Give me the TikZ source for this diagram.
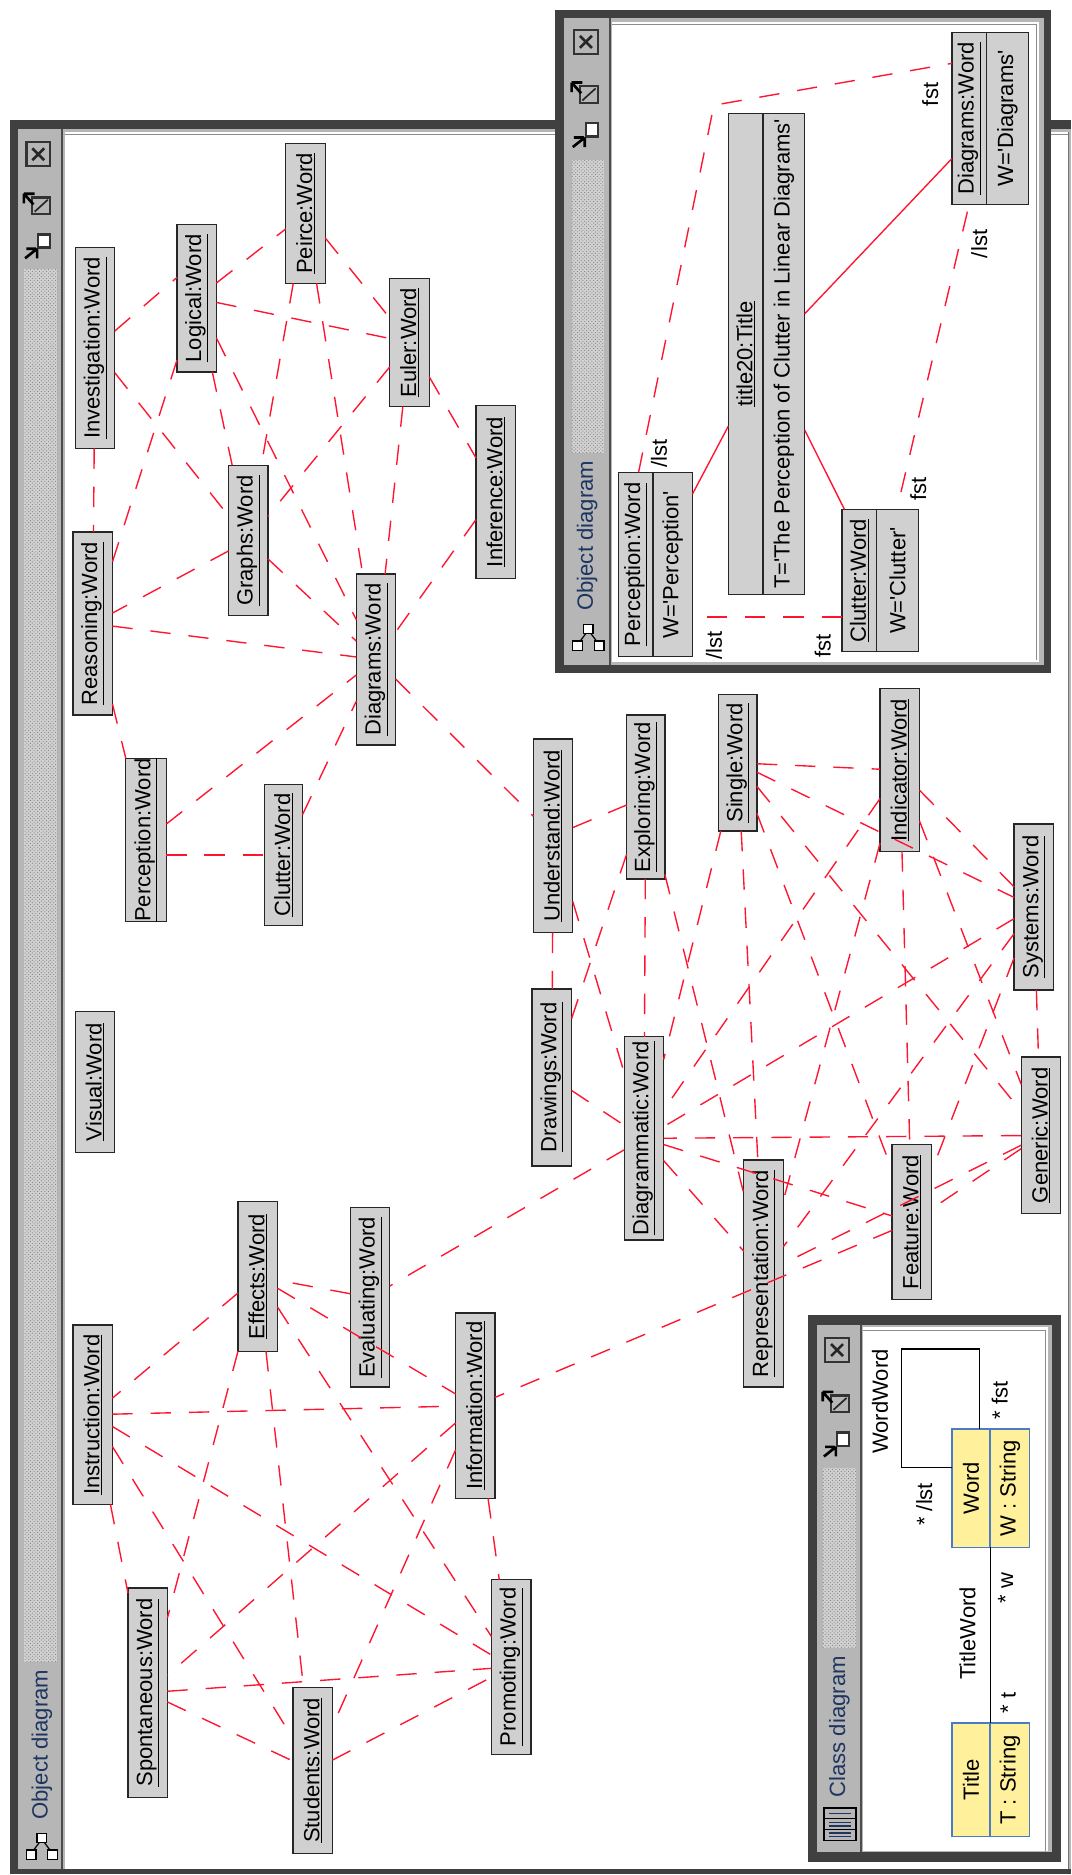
\documentclass[tikz,border=0pt]{standalone}
\usepackage{fontspec}
\setmainfont{Liberation Sans}
\usetikzlibrary{patterns}
\definecolor{wingray}{HTML}{B5B6B5}
\definecolor{windark}{HTML}{404040}
\definecolor{boxgray}{HTML}{D0D0D0}
\definecolor{linkred}{HTML}{FF1530}
\definecolor{titleblue}{HTML}{1E3560}
\definecolor{classyellow}{HTML}{FFF09C}
\definecolor{classblue}{HTML}{4A7CC4}
\newcommand{\q}{\textquotesingle}
\newcommand{\rt}[1]{\rotatebox{90}{#1}}
\tikzset{
  wordbox/.style={draw=black!85,fill=boxgray,line width=1.1pt,inner sep=0pt,outer sep=0pt,font=\fontsize{18.4}{18.4}\selectfont},
  plaintext/.style={inner sep=0pt,font=\fontsize{18.4}{18.4}\selectfont},
  titletext/.style={inner sep=0pt,text=titleblue,font=\fontsize{18.5}{18.5}\selectfont},
  classbox/.style={draw=classblue,fill=classyellow,line width=1.1pt,inner sep=0pt,outer sep=0pt,font=\fontsize{18.4}{18.4}\selectfont},
  lstlink/.style={draw=linkred,line width=1.15pt,dash pattern=on 17pt off 15pt},
  sollink/.style={draw=linkred,line width=1.15pt},
  classlink/.style={draw=black,line width=1.2pt},
  btn/.style={draw=black!80,line width=2pt},
}
\newcommand{\wb}[6]{\node[wordbox,minimum width={(#3-#2)*1pt},minimum height={(#5-#4)*1pt}] (#1) at ({(#2+#3)/2},{(#4+#5)/2}) {\rt{\underline{#6}}};}
\newcommand{\ob}[8]{%
 \node[wordbox,minimum width={(#4-#2)*1pt},minimum height={(#6-#5)*1pt}] (#1) at ({(#2+#4)/2},{(#5+#6)/2}) {};
 \node[plaintext] (#1h) at ({(#2+#3)/2},{(#5+#6)/2}) {\rt{\underline{#7}}};
 \node[plaintext] (#1a) at ({(#3+#4)/2},{(#5+#6)/2}) {\rt{#8}};
 \draw[black!85,line width=1.1pt] (#3,#5) -- (#3,#6);}
\newcommand{\cb}[8]{%
 \node[classbox,minimum width={(#4-#2)*1pt},minimum height={(#6-#5)*1pt}] (#1) at ({(#2+#4)/2},{(#5+#6)/2}) {};
 \node[plaintext] (#1h) at ({(#2+#3)/2},{(#5+#6)/2}) {\rt{#7}};
 \node[plaintext] (#1a) at ({(#3+#4)/2},{(#5+#6)/2}) {\rt{#8}};
 \draw[classblue,line width=1.1pt] (#3,#5) -- (#3,#6);}
\newcommand{\controls}[4]{%
 \draw[btn,fill=wingray] (#1-10,#2-10) rectangle (#1+10,#2+10);
 \draw[black!85,line width=2.2pt] (#1-5,#2-5) -- (#1+5,#2+5) (#1+5,#2-5) -- (#1-5,#2+5);
 \draw[btn,fill=wingray] (#1-5,#3-7) rectangle (#1+10,#3+7);
 \draw[black!85,line width=1.4pt] (#1-3,#3+5) -- (#1+8,#3-5);
 \draw[black,line width=2.2pt] (#1-4,#3-1) -- (#1-12,#3-10) (#1-12,#3-10) -- (#1-3,#3-10) (#1-12,#3-10) -- (#1-12,#3-2);
 \draw[btn,fill=white] (#1,#4-7) rectangle (#1+10,#4+4);
 \draw[black,line width=2.2pt] (#1-1,#4+5) -- (#1-11,#4+13) (#1-2,#4+5) -- (#1-10,#4+5) (#1-1,#4+5) -- (#1-1,#4+13);}
\newcommand{\stipple}[4]{%
 \fill[gray!35] (#1,#3) rectangle (#2,#4);
 \fill[pattern=crosshatch dots,pattern color=black!50] (#1,#3) rectangle (#2,#4);}
\newcommand{\objicon}[2]{%
 \draw[black,line width=1pt] (#1,#2-6) -- (#1+9,#2+6) (#1,#2-6) -- (#1-9,#2+6);
 \draw[black,line width=1.1pt,fill=white] (#1-4,#2-11) rectangle (#1+4,#2-3);
 \draw[black,line width=1.1pt,fill=white] (#1+5,#2+3) rectangle (#1+13,#2+11);
 \draw[black,line width=1.1pt,fill=white] (#1-13,#2+3) rectangle (#1-5,#2+11);}
\begin{document}
\begin{tikzpicture}[x=1pt,y=-1pt]
\useasboundingbox (0,0) rectangle (896,1568);
\fill[white] (0,0) rectangle (896,1568);
%%% main window
\fill[windark] (8,100) rectangle (896,1567);
\fill[wingray] (15,108) rectangle (896,1563);
\fill[black!70] (51,108) rectangle (53,1563);
\fill[white] (54,110) rectangle (893,1563);
\draw[black!45,line width=0.7pt] (54,112.5) -- (893,112.5);
\draw[black!55,line width=1pt] (893.5,110) -- (893.5,1563);
\stipple{20}{48}{225}{1390}
\controls{32}{129}{172}{203}
\node[titletext] (maintitle) at (35,1459) {\rt{Object diagram}};
\objicon{35}{1544}
%%% word nodes
\wb{inv}{63}{96}{207}{375}{Investigation:Word}
\wb{logi}{148}{181}{188}{311}{Logical:Word}
\wb{pei}{239}{272}{120}{237}{Peirce:Word}
\wb{eul}{326}{359}{233}{340}{Euler:Word}
\wb{inf}{398}{431}{339}{484}{Inference:Word}
\wb{gra}{191}{224}{389}{515}{Graphs:Word}
\wb{dia}{298}{331}{480}{623}{Diagrams:Word}
\wb{rea}{61}{94}{445}{598}{Reasoning:Word}
\wb{per}{105}{139}{635}{770}{Perception:Word}
\wb{clu}{221}{253}{656}{774}{Clutter:Word}
\wb{vis}{63}{96}{846}{964}{Visual:Word}
\wb{und}{446}{479}{618}{780}{Understand:Word}
\wb{exp}{524}{556}{598}{735}{Exploring:Word}
\wb{sin}{601}{633}{581}{695}{Single:Word}
\wb{ind}{736}{769}{576}{712}{Indicator:Word}
\wb{sys}{848}{881}{689}{828}{Systems:Word}
\wb{gen}{854}{887}{884}{1015}{Generic:Word}
\wb{dra}{445}{478}{827}{975}{Drawings:Word}
\wb{dgm}{522}{555}{867}{1037}{Diagrammatic:Word}
\wb{rep}{622}{655}{970}{1160}{Representation:Word}
\wb{fea}{746}{779}{957}{1087}{Feature:Word}
\wb{eff}{199}{232}{1005}{1130}{Effects:Word}
\wb{eva}{293}{326}{1010}{1160}{Evaluating:Word}
\wb{ifo}{381}{414}{1098}{1253}{Information:Word}
\wb{ins}{61}{94}{1108}{1258}{Instruction:Word}
\wb{spo}{107}{140}{1328}{1503}{Spontaneous:Word}
\wb{stu}{245}{278}{1411}{1550}{Students:Word}
\wb{pro}{411}{444}{1321}{1467}{Promoting:Word}
%%% links
\foreach \a/\b in {
 logi/pei,logi/eul,pei/eul,pei/gra,pei/dia,eul/gra,eul/dia,eul/inf,inf/dia,
 logi/gra,logi/dia,inv/gra,inv/rea,logi/rea,gra/rea,gra/dia,rea/dia,rea/per,per/dia,
 clu/dia,dia/und,und/exp,und/dra,und/dgm,exp/dra,exp/dgm,exp/rep,sin/dgm,
 sin/rep,sin/fea,sin/ind,sin/sys,sin/gen,ind/dgm,ind/rep,ind/fea,ind/sys,ind/gen,
 sys/dgm,sys/rep,sys/fea,sys/gen,gen/dgm,gen/rep,gen/fea,dra/dgm,dgm/rep,dgm/fea,
 dgm/eva,fea/ifo,eva/eff,eff/ifo,eff/ins,eff/spo,eff/stu,eff/pro,ins/ifo,ins/pro,
 ins/stu,ins/spo,ifo/spo,ifo/stu,ifo/pro,spo/pro,spo/stu,stu/pro}
 {\draw[lstlink] (\a) -- (\b);}
\coordinate (invend) at (148,232);
\draw[lstlink] (inv) -- (invend);
\draw[lstlink] (per.east |- clu.west) -- (clu.west);
%%% top object diagram window
\fill[windark] (464,8) rectangle (879,563);
\fill[wingray] (472,15) rectangle (873,556);
\fill[black!70] (509,15) rectangle (511,556);
\fill[white] (512,18) rectangle (869,554);
\draw[black!45,line width=0.7pt] (512,20.5) -- (867,20.5) -- (867,552);
\stipple{478}{505}{134}{379}
\controls{490}{35}{79}{110}
\node[titletext] (toptitle) at (491,448) {\rt{Object diagram}};
\objicon{492}{533}
\ob{tper}{517}{546}{579}{395}{549}{Perception:Word}{W=\q Perception\q}
\ob{ttit}{609}{638}{673}{95}{497}{title20:Title}{T=\q The Perception of Clutter in Linear Diagrams\q}
\ob{tclu}{704}{733}{768}{426}{545}{Clutter:Word}{W=\q Clutter\q}
\ob{tdia}{796}{825}{860}{27}{171}{Diagrams:Word}{W=\q Diagrams\q}
\draw[sollink] (tper) -- (ttit);
\draw[sollink] (tclu) -- (ttit);
\draw[sollink] (tdia) -- (ttit);
\coordinate (pa) at (534,395);
\coordinate (pb) at (597,88);
\coordinate (pc) at (796,53);
\coordinate (pd) at (582,516);
\coordinate (pe) at (704,516);
\coordinate (pf) at (809,177);
\coordinate (pg) at (750,426);
\draw[lstlink] (pa) -- (pb) -- (pc);
\draw[lstlink] (pe) -- (pd);
\draw[lstlink] (pf) -- (pg);
\node[plaintext] (l1) at (551,379) {\rt{/lst}};
\node[plaintext] (l2) at (597,540) {\rt{/lst}};
\node[plaintext] (l3) at (688,540) {\rt{fst}};
\node[plaintext] (l4) at (768,409) {\rt{fst}};
\node[plaintext] (l5) at (778,79) {\rt{fst}};
\node[plaintext] (l6) at (819,204) {\rt{/lst}};
%%% class window
\fill[windark] (676,1100) rectangle (887,1557);
\fill[wingray] (683,1108) rectangle (880,1549);
\fill[black!70] (719,1108) rectangle (721,1549);
\fill[white] (722,1110) rectangle (876,1548);
\draw[black!45,line width=0.7pt] (722,1112.5) -- (874,1112.5) -- (874,1548);
\stipple{688}{716}{1228}{1378}
\controls{700}{1129}{1174}{1205}
\node[titletext] (classtitle) at (702,1444) {\rt{Class diagram}};
\draw[black,line width=1.2pt,fill=wingray] (689,1512) rectangle (716,1539);
\draw[black,line width=1pt] (689,1521) -- (716,1521) (689,1530) -- (716,1530);
\draw[titleblue,line width=1.2pt] (693,1516.5) -- (712,1516.5) (693,1524) -- (712,1524) (693,1527) -- (712,1527) (693,1533) -- (712,1533) (693,1536) -- (712,1536);
\cb{cw}{796}{828}{861}{1195}{1294}{Word}{W : String}
\cb{ct}{796}{828}{861}{1441}{1536}{Title}{T : String}
\coordinate (wa) at (819,1195);
\coordinate (wb) at (819,1128);
\coordinate (wc) at (754,1128);
\coordinate (wd) at (754,1227);
\coordinate (we) at (796,1227);
\draw[classlink] (wa) -- (wb) -- (wc) -- (wd) -- (we);
\draw[classlink] (cw.south) -- (ct.north);
\node[plaintext] (c1) at (736,1172) {\rt{WordWord}};
\node[plaintext] (c2) at (773,1258) {\rt{* /lst}};
\node[plaintext] (c3) at (836,1171) {\rt{* fst}};
\node[plaintext] (c4) at (809,1366) {\rt{TitleWord}};
\node[plaintext] (c5) at (841,1328) {\rt{* w}};
\node[plaintext] (c6) at (843,1424) {\rt{* t}};
\end{tikzpicture}
\end{document}
